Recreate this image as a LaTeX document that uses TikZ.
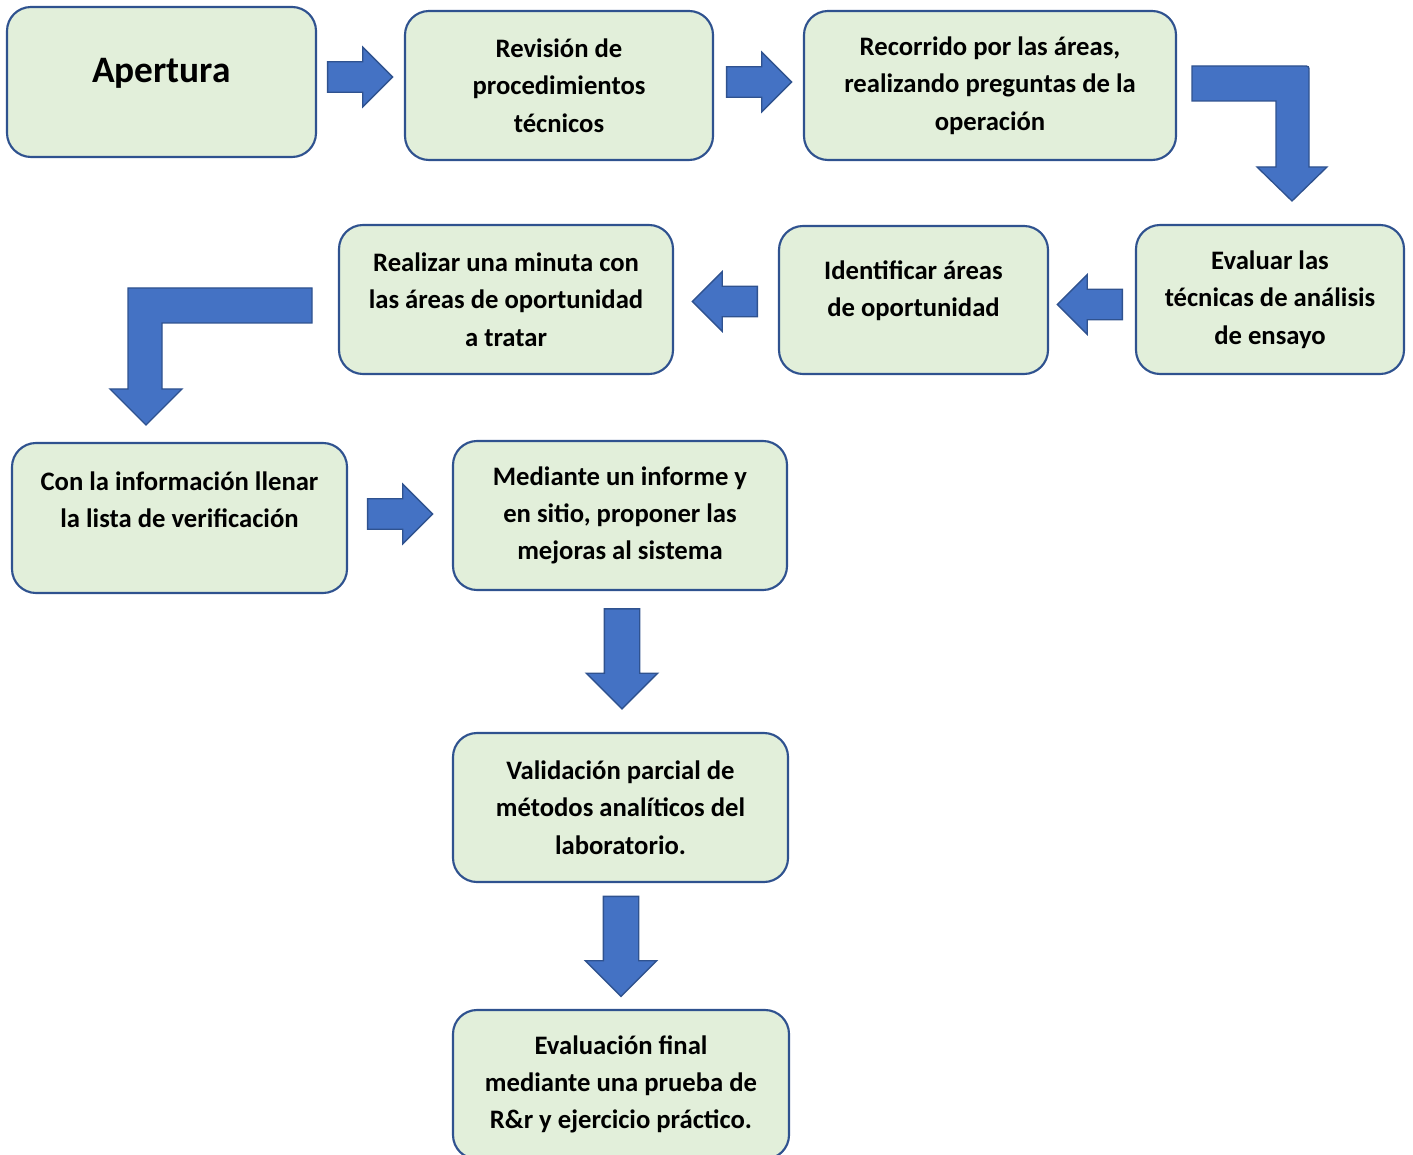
\documentclass[tikz,border=0pt]{standalone}
\usepackage{amsmath}
\usepackage{fontspec}
\setmainfont{Carlito}
\usepackage{tikz}
\usetikzlibrary{shapes.arrows}

\definecolor{cajafondo}{HTML}{E2EFDA}
\definecolor{cajaborde}{HTML}{2F528F}
\definecolor{flechafondo}{HTML}{4472C4}
\definecolor{flechaborde}{HTML}{2F528F}

\tikzset{
  caja/.style={draw=cajaborde, fill=cajafondo, line width=1.6pt, rounded corners=18pt,
    inner sep=0pt, minimum height=111.75pt, align=center,
    font=\bfseries\fontsize{20}{28}\selectfont},
  flecha/.style={draw=flechaborde, fill=flechafondo, line width=1pt},
  flechabloque/.style={flecha, single arrow, inner sep=10.9pt,
    minimum height=48.75pt, single arrow head extend=11pt},
  flechabaja/.style={flecha, single arrow, inner sep=12.75pt, shape border rotate=270,
    minimum height=75pt, single arrow head extend=13.5pt}
}

\begin{document}
\begin{tikzpicture}[x=0.75pt,y=0.75pt,yscale=-1,xscale=1]
\useasboundingbox (0,0) rectangle (1413,1155);

%Shape: Rounded Rect [id:apertura]
\node [caja, minimum width=231.75pt, minimum height=112.5pt, font=\bfseries\fontsize{28}{18}\selectfont] (ap) at (161.5,82) {Apertura\\\mbox{}};
%Shape: Rounded Rect [id:revision]
\node [caja, minimum width=231pt] (rev) at (559,85.5) {Revisión de\\procedimientos\\técnicos};
%Shape: Rounded Rect [id:recorrido]
\node [caja, minimum width=279pt] (rec) at (990,85.5) {Recorrido por las áreas,\\realizando preguntas de la\\operación};
%Shape: Rounded Rect [id:evaluar]
\node [caja, minimum width=201pt] (eva) at (1270,299.5) {Evaluar las\\técnicas de análisis\\de ensayo};
%Shape: Rounded Rect [id:identificar]
\node [caja, minimum width=201.75pt, minimum height=111pt] (ide) at (913.5,300) {Identificar áreas\\de oportunidad\\[-11pt]\mbox{}};
%Shape: Rounded Rect [id:realizar]
\node [caja, minimum width=250.5pt] (rea) at (506,299.5) {Realizar una minuta con\\las áreas de oportunidad\\a tratar};
%Shape: Rounded Rect [id:informacion]
\node [caja, minimum width=251.25pt, minimum height=112.5pt] (con) at (179.5,518) {Con la información llenar\\la lista de verificación\\\mbox{}};
%Shape: Rounded Rect [id:mediante]
\node [caja, minimum width=250.5pt] (med) at (620,515.5) {Mediante un informe y\\en sitio, proponer las\\mejoras al sistema};
%Shape: Rounded Rect [id:validacion]
\node [caja, minimum width=251.25pt] (val) at (620.5,807.5) {Validación parcial de\\métodos analíticos del\\laboratorio.};
%Shape: Rounded Rect [id:final]
\node [caja, minimum width=252pt] (fin) at (621,1084.5) {Evaluación final\\mediante una prueba de\\R\&r y ejercicio práctico.};

%Right Arrow [id:f1]
\node [flechabloque] (f1) at (352.5,77) {};
%Right Arrow [id:f2]
\node [flechabloque] (f2) at (751.5,82) {};
%Left Arrow [id:f3]
\node [flechabloque, shape border rotate=180] (f3) at (1097.5,304.5) {};
%Left Arrow [id:f4]
\node [flechabloque, shape border rotate=180] (f4) at (732.5,301.5) {};
%Right Arrow [id:f5]
\node [flechabloque] (f5) at (392.5,514) {};
%Down Arrow [id:f6]
\node [flechabaja] (f6) at (622,650) {};
%Down Arrow [id:f7]
\node [flechabaja] (f7) at (621,937.5) {};

%Bent Arrow [id:codo1]
\draw [flecha] (1192,66) -- (1303,66) .. controls (1309,66) .. (1309,72) -- (1309,167) -- (1327,167) -- (1292,201) -- (1257,167) -- (1276,167) -- (1276,101) -- (1192,101) -- cycle ;
%Bent Arrow [id:codo2]
\draw [flecha] (312,288) -- (128,288) -- (128,389) -- (110,389) -- (146,425) -- (182,389) -- (162,389) -- (162,323) -- (312,323) -- cycle ;
\end{tikzpicture}
\end{document}
